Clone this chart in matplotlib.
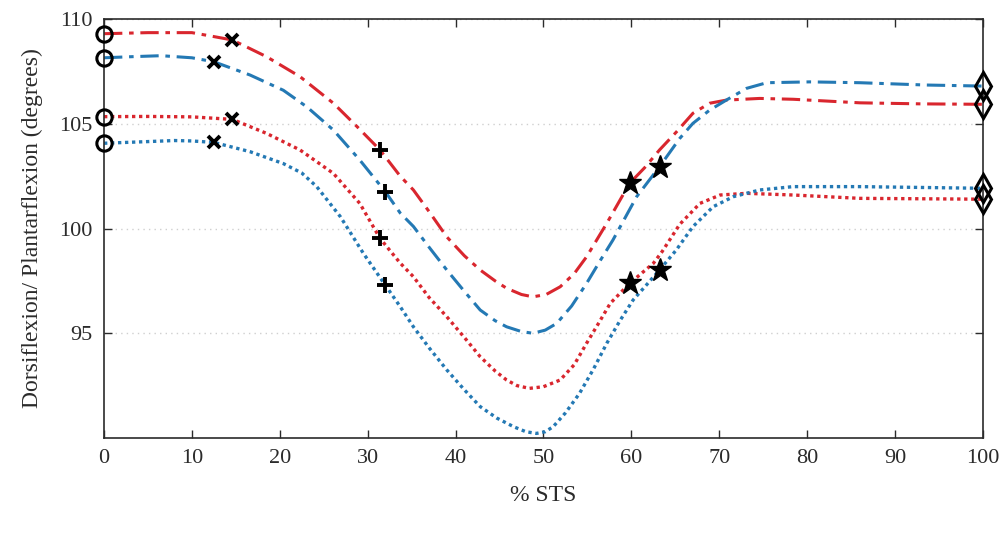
import matplotlib
matplotlib.use("Agg")
import matplotlib.pyplot as plt

# ── curves (x = % STS, y = degrees) ─────────────────────────────────────────
red_dd_x = [0, 5, 10, 12, 14.6, 18.5, 22.3, 26.1, 28.8, 31.4, 33.7, 35.2, 37, 39.0,
            41, 42.8, 44.5, 45.8, 47.5, 48.8, 50.3, 51.9, 53.5, 54.9, 57.2, 59.8,
            61.5, 63.2, 65.1, 67.0, 68.9, 70.8, 74.6, 78.4, 86, 93, 100]
red_dd_y = [109.3, 109.35, 109.35, 109.2, 109.0, 108.2, 107.25, 105.98, 104.86, 103.75,
            102.5, 101.84, 100.8, 99.6, 98.7, 98.02, 97.5, 97.15, 96.85, 96.74, 96.85,
            97.22, 97.85, 98.65, 100.25, 102.16, 102.9, 103.75, 104.6, 105.5, 105.98,
            106.13, 106.21, 106.17, 106.0, 105.95, 105.93]

blue_dd_x = [0, 3, 6.5, 10, 12.5, 16.6, 20.4, 23.1, 26.1, 29.1, 32.0, 33.7, 35.2, 37,
             39.0, 41, 42.8, 44.5, 45.8, 47.5, 48.8, 50.2, 51.5, 53.2, 54.9, 56.5, 57.9,
             60.6, 63.2, 65.5, 67.0, 68.9, 70.8, 73.1, 75.4, 80.3, 86, 93.5, 100]
blue_dd_y = [108.15, 108.2, 108.25, 108.15, 107.96, 107.33, 106.6, 105.8, 104.7, 103.27,
             101.76, 100.74, 100.1, 99.1, 98.02, 97.0, 96.11, 95.6, 95.31, 95.08, 95.0,
             95.15, 95.47, 96.3, 97.38, 98.5, 99.45, 101.52, 102.95, 104.3, 105.02,
             105.65, 106.13, 106.69, 106.96, 107.0, 106.96, 106.85, 106.8]

red_dot_x = [0, 5, 10, 14.6, 18.5, 22.3, 26.1, 29.1, 31.4, 33.7, 35.2, 37, 39.0, 41,
             42.8, 44.5, 45.8, 47, 48.4, 50, 51.9, 53.5, 54.9, 56.3, 57.6, 59.8, 62.5,
             63.5, 65.5, 67.8, 70.1, 73.1, 78.4, 86, 100]
red_dot_y = [105.34, 105.35, 105.33, 105.21, 104.54, 103.75, 102.63, 101.2, 99.53, 98.35,
             97.7, 96.7, 95.79, 94.8, 93.88, 93.2, 92.77, 92.5, 92.37, 92.45, 92.77, 93.5,
             94.52, 95.5, 96.43, 97.38, 98.34, 98.9, 100.2, 101.2, 101.6, 101.68, 101.6,
             101.44, 101.4]

blue_dot_x = [0, 5, 8, 10, 12.5, 16.6, 20.4, 22.5, 24.2, 26.9, 29.5, 32.0, 33.7, 35.2,
              37, 39.0, 41, 42.8, 44.7, 46.6, 48, 49.2, 50.2, 51.1, 52.5, 54.1, 55.7,
              57.2, 58.7, 60.2, 61.7, 63.2, 65.1, 67.0, 69.3, 71.6, 74.6, 78.4, 86, 93,
              100]
blue_dot_y = [104.07, 104.15, 104.2, 104.18, 104.11, 103.67, 103.1, 102.65, 102.0,
              100.56, 98.82, 97.3, 96.27, 95.31, 94.3, 93.25, 92.3, 91.5, 90.95, 90.54,
              90.3, 90.22, 90.3, 90.54, 91.2, 92.13, 93.3, 94.52, 95.6, 96.59, 97.3,
              98.02, 98.97, 100.09, 101.04, 101.52, 101.84, 102.0, 102.0, 101.96, 101.92]

# ── event markers: order = red dash-dot, blue dash-dot, red dotted, blue dotted
circle_x  = [0, 0, 0, 0]
circle_y  = [109.3, 108.15, 105.34, 104.07]
cross_x   = [14.6, 12.5, 14.6, 12.5]
cross_y   = [109.0, 107.96, 105.21, 104.11]
plus_x    = [31.4, 32.0, 31.4, 32.0]
plus_y    = [103.75, 101.76, 99.53, 97.3]
star_x    = [59.8, 63.2, 59.8, 63.2]
star_y    = [102.16, 102.95, 97.38, 98.02]
diamond_x = [100, 100, 100, 100]
diamond_y = [105.93, 106.8, 101.4, 101.92]

RED  = "#D9262E"
BLUE = "#2479B4"
DASHDOT = (0, (6, 2.2, 1.5, 2.2))
TEXT = "#2b2b2b"

plt.rcParams["font.family"] = ["Liberation Serif", "DejaVu Serif"]

fig = plt.figure(figsize=(10.02, 5.33), dpi=100)
ax = fig.add_axes([0.1038, 0.1782, 0.8772, 0.7861])

ax.plot(red_dd_x, red_dd_y, color=RED, lw=2.2, ls=DASHDOT)
ax.plot(blue_dd_x, blue_dd_y, color=BLUE, lw=2.2, ls=DASHDOT)
ax.plot(red_dot_x, red_dot_y, color=RED, lw=2.4, ls=(0, (1, 1.1)))
ax.plot(blue_dot_x, blue_dot_y, color=BLUE, lw=2.4, ls=(0, (1, 1.1)))

kw = dict(ls="none", color="black", clip_on=False, zorder=5)
ax.plot(circle_x, circle_y, marker="o", ms=11, mfc="none", mew=2.2, **kw)
ax.plot(cross_x, cross_y, marker="x", ms=8, mew=2.8, **kw)
ax.plot(plus_x, plus_y, marker="+", ms=11, mew=2.8, **kw)
ax.plot(star_x, star_y, marker="*", ms=17, mfc="black", mew=1, **kw)
ax.plot(diamond_x, diamond_y, marker="d", ms=14, mfc="none", mew=2.2, **kw)

ax.set_xlim(0, 100)
ax.set_ylim(90, 110)
ax.set_xticks(range(0, 101, 10))
ax.set_yticks([95, 100, 105, 110])
ax.yaxis.grid(True, ls=(0, (1, 3)), color="#cfcfcf", lw=1)
ax.set_axisbelow(True)

ax.tick_params(direction="in", top=True, right=True, length=6, width=1,
               labelsize=16, pad=8, colors=TEXT, labelcolor=TEXT)
for s in ax.spines.values():
    s.set_color(TEXT)
    s.set_linewidth(1.2)

ax.set_xlabel("% STS", fontsize=17, labelpad=12, color=TEXT)
ax.set_ylabel("Dorsiflexion/ Plantarflexion (degrees)", fontsize=17, labelpad=12,
              color=TEXT)

fig.savefig("out.png", dpi=100)
